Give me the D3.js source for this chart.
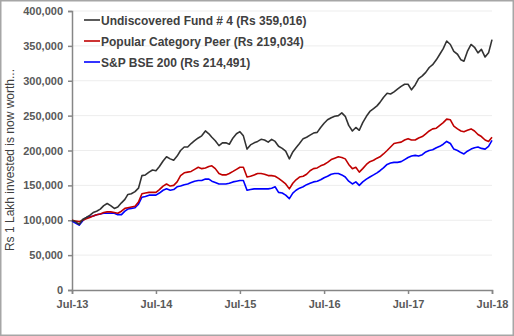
<!DOCTYPE html>
<meta charset="utf-8">
<script src="https://d3js.org/d3.v7.min.js"></script>
<style>
body { margin: 0; background: #fff; }
svg { font-family: "Liberation Sans", Arial, sans-serif; }
.tick text { font-size: 11px; font-weight: bold; fill: #595959; }
</style>
<div id="chart"></div>
<script>
// months Jul-13 .. Jul-18; each month has a 1st and a 16th reading (last month only the 1st)
var months = [
  "2013-07","2013-08","2013-09","2013-10","2013-11","2013-12",
  "2014-01","2014-02","2014-03","2014-04","2014-05","2014-06","2014-07","2014-08","2014-09","2014-10","2014-11","2014-12",
  "2015-01","2015-02","2015-03","2015-04","2015-05","2015-06","2015-07","2015-08","2015-09","2015-10","2015-11","2015-12",
  "2016-01","2016-02","2016-03","2016-04","2016-05","2016-06","2016-07","2016-08","2016-09","2016-10","2016-11","2016-12",
  "2017-01","2017-02","2017-03","2017-04","2017-05","2017-06","2017-07","2017-08","2017-09","2017-10","2017-11","2017-12",
  "2018-01","2018-02","2018-03","2018-04","2018-05","2018-06","2018-07"];

// values in Rs thousands
var fund = [100,98,94,101,104,107,111,113,116,121,124,121,
  117,119,125,130,137,138,141,146,164,165,169,172,171,177,185,191,188,186,192,200,205,205,210,214,
  218,221,228,224,219,214,207,211,211,209,218,224,227,221,202,208,211,213,216,215,212,216,213,206,
  203,199,188,198,204,210,217,219,222,225,226,233,239,244,247,249,250,254,249,236,228,233,229,240,
  249,256,260,264,269,276,282,281,284,288,292,295,295,287,294,303,307,312,319,323,330,338,346,357,
  352,342,338,330,328,342,352,348,340,345,334,340,359.016];
var peer = [100,99,98,100,102,104,106,108,109,111,112,112,
  111,110,113,117,118,119,120,126,138,139,140,140,140,144,149,152,149,150,155,164,168,169,170,173,
  176,174,175,177,178,174,167,165,165,167,170,173,176,176,162,163,165,167,167,166,164,164,163,160,
  156,152,145,153,158,162,163,166,171,174,175,178,180,183,187,189,191,190,188,180,174,176,169,174,
  180,184,186,189,191,195,200,205,210,211,212,215,217,215,215,218,220,224,228,231,232,236,240,245,
  244,235,231,228,227,229,231,228,223,220,215,213,219.034];
var bse = [99,96,93,99,104,105,106,108,109,110,110,110,
  110,108,108,113,116,117,118,123,133,134,136,136,136,139,143,145,143,144,148,149,151,152,154,156,
  157,157,159,159,156,154,152,152,152,153,155,156,157,157,143,144,145,145,145,145,145,146,148,140,
  139,136,131,139,143,146,148,151,153,155,156,158,161,163,166,167,167,165,162,156,152,155,150,155,
  159,162,165,168,171,175,180,182,183,183,184,187,190,192,193,192,194,198,200,201,204,206,209,213,
  210,202,200,197,195,199,202,204,205,203,202,206,214.491];

var seriesNames = ["Undiscovered Fund # 4 (Rs 359,016)", "Popular Category Peer (Rs 219,034)", "S&P BSE 200 (Rs 214,491)"];
var seriesColors = ["#333333", "#c00000", "#0000ff"];
var yTicks = [0, 50000, 100000, 150000, 200000, 250000, 300000, 350000, 400000];
var xTickLabels = ["Jul-13", "Jul-14", "Jul-15", "Jul-16", "Jul-17", "Jul-18"];

var W = 514, H = 336;
var margin = {top: 11, right: 22, bottom: 46, left: 72},
    width = W - margin.left - margin.right,
    height = H - margin.top - margin.bottom;

var parse = d3.timeParse("%Y-%m-%d");
var dates = [];
months.forEach(function(m, i) {
  dates.push(parse(m + "-01"));
  if (i < months.length - 1) dates.push(parse(m + "-16"));
});
var tickDates = xTickLabels.map(d3.timeParse("%b-%y"));

var svg = d3.select("#chart").append("svg")
    .attr("width", W).attr("height", H);

svg.append("rect")
    .attr("x", 0.75).attr("y", 0.75)
    .attr("width", W - 1.5).attr("height", H - 1.5)
    .attr("fill", "#fff").attr("stroke", "#a6a6a6").attr("stroke-width", 1.5);

var g = svg.append("g")
    .attr("transform", "translate(" + margin.left + "," + margin.top + ")");

var x = d3.scaleTime().domain([dates[0], dates[dates.length - 1]]).range([0, width]);
var y = d3.scaleLinear().domain([0, 400000]).range([height, 0]);

// gridlines
g.append("g")
  .selectAll("line")
  .data(yTicks.slice(1))
  .enter().append("line")
    .attr("x1", 0).attr("x2", width)
    .attr("y1", function(d) { return y(d); })
    .attr("y2", function(d) { return y(d); })
    .attr("stroke", "#ededed").attr("stroke-width", 1);

var yAxis = g.append("g")
  .call(d3.axisLeft(y).tickValues(yTicks).tickSize(4).tickPadding(5).tickFormat(d3.format(",")));
var xAxis = g.append("g")
  .attr("transform", "translate(0," + height + ")")
  .call(d3.axisBottom(x).tickValues(tickDates).tickSize(4).tickPadding(6).tickFormat(d3.timeFormat("%b-%y")));
[yAxis, xAxis].forEach(function(a) {
  a.select(".domain").attr("stroke", "#868686").attr("stroke-width", 1.5);
  a.selectAll(".tick line").attr("stroke", "#868686").attr("stroke-width", 1.5);
  a.attr("font-family", null).attr("font-size", null);
});

var line = d3.line()
  .x(function(d, i) { return x(dates[i]); })
  .y(function(d) { return y(d * 1000); });

[bse, peer, fund].forEach(function(s, k) {
  g.append("path")
    .datum(s)
    .attr("fill", "none")
    .attr("stroke", seriesColors[2 - k])
    .attr("stroke-width", 1.6)
    .attr("stroke-linejoin", "round")
    .attr("d", line);
});

// legend
var legend = svg.append("g");
seriesNames.forEach(function(name, i) {
  var yy = 20 + i * 21;
  legend.append("line")
    .attr("x1", 84).attr("x2", 100).attr("y1", yy).attr("y2", yy)
    .attr("stroke", seriesColors[i]).attr("stroke-width", 1.6);
  legend.append("text")
    .attr("x", 101).attr("y", yy + 4.5)
    .attr("font-size", 12).attr("font-weight", "bold").attr("fill", "#404040")
    .text(name);
});

svg.append("text")
  .attr("transform", "translate(14," + 160 + ") rotate(-90)")
  .attr("text-anchor", "middle")
  .attr("font-size", 12).attr("fill", "#404040")
  .text("Rs 1 Lakh invested is now worth...");
</script>
